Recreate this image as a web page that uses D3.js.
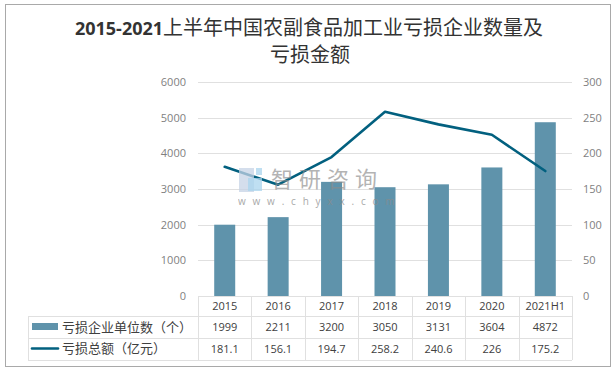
<!DOCTYPE html>
<html>
<head>
<meta charset="utf-8">
<script src="https://cdn.jsdelivr.net/npm/d3@7"></script>
<style>
html, body { margin: 0; padding: 0; background: #fff; }
svg { display: block; text-spacing-trim: space-all; }
.num { font-family: "Open Sans", sans-serif; }
.cjk { font-family: "Noto Sans CJK SC", sans-serif; }
</style>
</head>
<body>
<div class="container"></div>
<script>
const WIDTH = 616;
const HEIGHT = 374;
const PLOT = {left: 198, right: 572, top: 82, bottom: 296};
const ROWS = [296, 316, 338, 360];

const categories = ["2015", "2016", "2017", "2018", "2019", "2020", "2021H1"];
const companies = [1999, 2211, 3200, 3050, 3131, 3604, 4872];
const losses = [181.1, 156.1, 194.7, 258.2, 240.6, 226, 175.2];
const leftTicks = [0, 1000, 2000, 3000, 4000, 5000, 6000];
const rightTicks = [0, 50, 100, 150, 200, 250, 300];
const seriesNames = ["亏损企业单位数（个）", "亏损总额（亿元）"];

const BAR_COLOR = "#5f93ab";
const LINE_COLOR = "#02607f";
const GRID_COLOR = "#e0e0e0";
const TEXT_COLOR = "#404040";
const TICK_COLOR = "#7f7f7f";

var svg = d3.select(".container").append("svg")
	.attr("width", WIDTH)
	.attr("height", HEIGHT);

// outer frame
svg.append("rect")
	.attr("x", 5.5).attr("y", 4.5)
	.attr("width", 605).attr("height", 362)
	.attr("fill", "#fff")
	.attr("stroke", "#a9a9a9");

// title
var title = svg.append("text")
	.attr("x", 309).attr("y", 35)
	.attr("text-anchor", "middle")
	.attr("fill", "#333");
title.append("tspan").attr("class", "num")
	.attr("font-size", 18)
	.attr("font-weight", "bold")
	.text("2015-2021");
title.append("tspan").attr("class", "cjk")
	.attr("font-size", 20)
	.text("上半年中国农副食品加工业亏损企业数量及");
svg.append("text")
	.attr("class", "cjk")
	.attr("x", 310).attr("y", 62)
	.attr("text-anchor", "middle")
	.attr("font-size", 20)
	.attr("fill", "#333")
	.text("亏损金额");

var xScale = d3.scaleBand()
	.domain(categories)
	.range([PLOT.left, PLOT.right]);

var yLeft = d3.scaleLinear()
	.domain([0, 6000])
	.range([PLOT.bottom, PLOT.top]);

var yRight = d3.scaleLinear()
	.domain([0, 300])
	.range([PLOT.bottom, PLOT.top]);

// gridlines
svg.append("g").selectAll("line").data(leftTicks.slice(1))
	.enter().append("line")
	.attr("x1", PLOT.left).attr("x2", PLOT.right)
	.attr("y1", function(d){ return Math.round(yLeft(d)) + 0.5; })
	.attr("y2", function(d){ return Math.round(yLeft(d)) + 0.5; })
	.attr("stroke", GRID_COLOR);

// axes
var leftAxis = d3.axisLeft(yLeft).tickValues(leftTicks).tickFormat(d3.format("d")).tickSize(0).tickPadding(12);
var rightAxis = d3.axisRight(yRight).tickValues(rightTicks).tickFormat(d3.format("d")).tickSize(0).tickPadding(11);

var leftGroup = svg.append("g")
	.attr("transform", "translate(" + PLOT.left + ",0)")
	.call(leftAxis);
var rightGroup = svg.append("g")
	.attr("transform", "translate(" + PLOT.right + ",0)")
	.call(rightAxis);
[leftGroup, rightGroup].forEach(function(g){
	g.attr("font-family", null).attr("font-size", null);
	g.select(".domain").remove();
	g.selectAll("text")
		.classed("num", true)
		.attr("font-size", 11)
		.attr("fill", TICK_COLOR);
});

// bars
svg.append("g").selectAll("rect").data(companies)
	.enter().append("rect")
	.attr("x", function(d, i){ return xScale(categories[i]) + xScale.bandwidth()/2 - 10.5; })
	.attr("y", function(d){ return yLeft(d); })
	.attr("width", 21)
	.attr("height", function(d){ return PLOT.bottom - yLeft(d); })
	.attr("fill", BAR_COLOR);

// loss line
var line = d3.line()
	.x(function(d, i){ return xScale(categories[i]) + xScale.bandwidth()/2; })
	.y(function(d){ return yRight(d); });

svg.append("path")
	.attr("d", line(losses))
	.attr("fill", "none")
	.attr("stroke", LINE_COLOR)
	.attr("stroke-width", 2.6)
	.attr("stroke-linejoin", "round")
	.attr("stroke-linecap", "round");

// data table
var table = svg.append("g").attr("stroke", GRID_COLOR).attr("fill", "none");
table.append("line")
	.attr("x1", PLOT.left).attr("x2", PLOT.right)
	.attr("y1", ROWS[0] + 0.5).attr("y2", ROWS[0] + 0.5);
ROWS.slice(1).forEach(function(y){
	table.append("line")
		.attr("x1", 28).attr("x2", PLOT.right)
		.attr("y1", y + 0.5).attr("y2", y + 0.5);
});
table.append("line")
	.attr("x1", 28.5).attr("x2", 28.5)
	.attr("y1", ROWS[1]).attr("y2", ROWS[3]);
xScale.domain().concat([null]).forEach(function(c){
	var x = Math.round(c === null ? PLOT.right : xScale(c)) + 0.5;
	table.append("line")
		.attr("x1", x).attr("x2", x)
		.attr("y1", ROWS[0]).attr("y2", ROWS[3]);
});

var cellRows = [categories, companies, losses];
cellRows.forEach(function(row, r){
	svg.append("g").selectAll("text").data(row)
		.enter().append("text")
		.classed("num", true)
		.attr("x", function(d, i){ return xScale(categories[i]) + xScale.bandwidth()/2; })
		.attr("y", (ROWS[r] + ROWS[r + 1]) / 2 + 4)
		.attr("text-anchor", "middle")
		.attr("font-size", 11)
		.attr("fill", TEXT_COLOR)
		.text(function(d){ return d; });
});

// legend keys in the table
svg.append("rect")
	.attr("x", 32).attr("y", 323)
	.attr("width", 26).attr("height", 7)
	.attr("fill", BAR_COLOR);
svg.append("line")
	.attr("x1", 32).attr("x2", 58)
	.attr("y1", 348.5).attr("y2", 348.5)
	.attr("stroke", LINE_COLOR)
	.attr("stroke-width", 2.6)
	.attr("stroke-linecap", "round");
seriesNames.forEach(function(name, i){
	svg.append("text")
		.attr("class", "cjk")
		.attr("x", 62).attr("y", i === 0 ? 332 : 353)
		.attr("font-size", 13)
		.attr("fill", TEXT_COLOR)
		.text(name);
});

// watermark
var mark = svg.append("g");
mark.append("rect").attr("x", 239).attr("y", 168).attr("width", 15).attr("height", 24).attr("fill", "#c6d3e6").attr("opacity", 0.75);
mark.append("rect").attr("x", 248).attr("y", 178).attr("width", 14).attr("height", 13).attr("fill", "#a9d4ee").attr("opacity", 0.75);
mark.append("rect").attr("x", 256).attr("y", 168).attr("width", 6).attr("height", 7).attr("fill", "#a9d4ee").attr("opacity", 0.75);
mark.append("text")
	.attr("class", "cjk")
	.attr("x", 271).attr("y", 187)
	.attr("font-size", 22)
	.attr("letter-spacing", 6)
	.attr("fill", "#8c8c8c")
	.attr("opacity", 0.65)
	.text("智研咨询");
mark.append("text")
	.attr("class", "num")
	.attr("x", 238).attr("y", 205)
	.attr("font-size", 10)
	.attr("letter-spacing", 6.8)
	.attr("fill", "#8c8c8c")
	.attr("opacity", 0.75)
	.text("www.chyxx.com");
</script>
</body>
</html>
